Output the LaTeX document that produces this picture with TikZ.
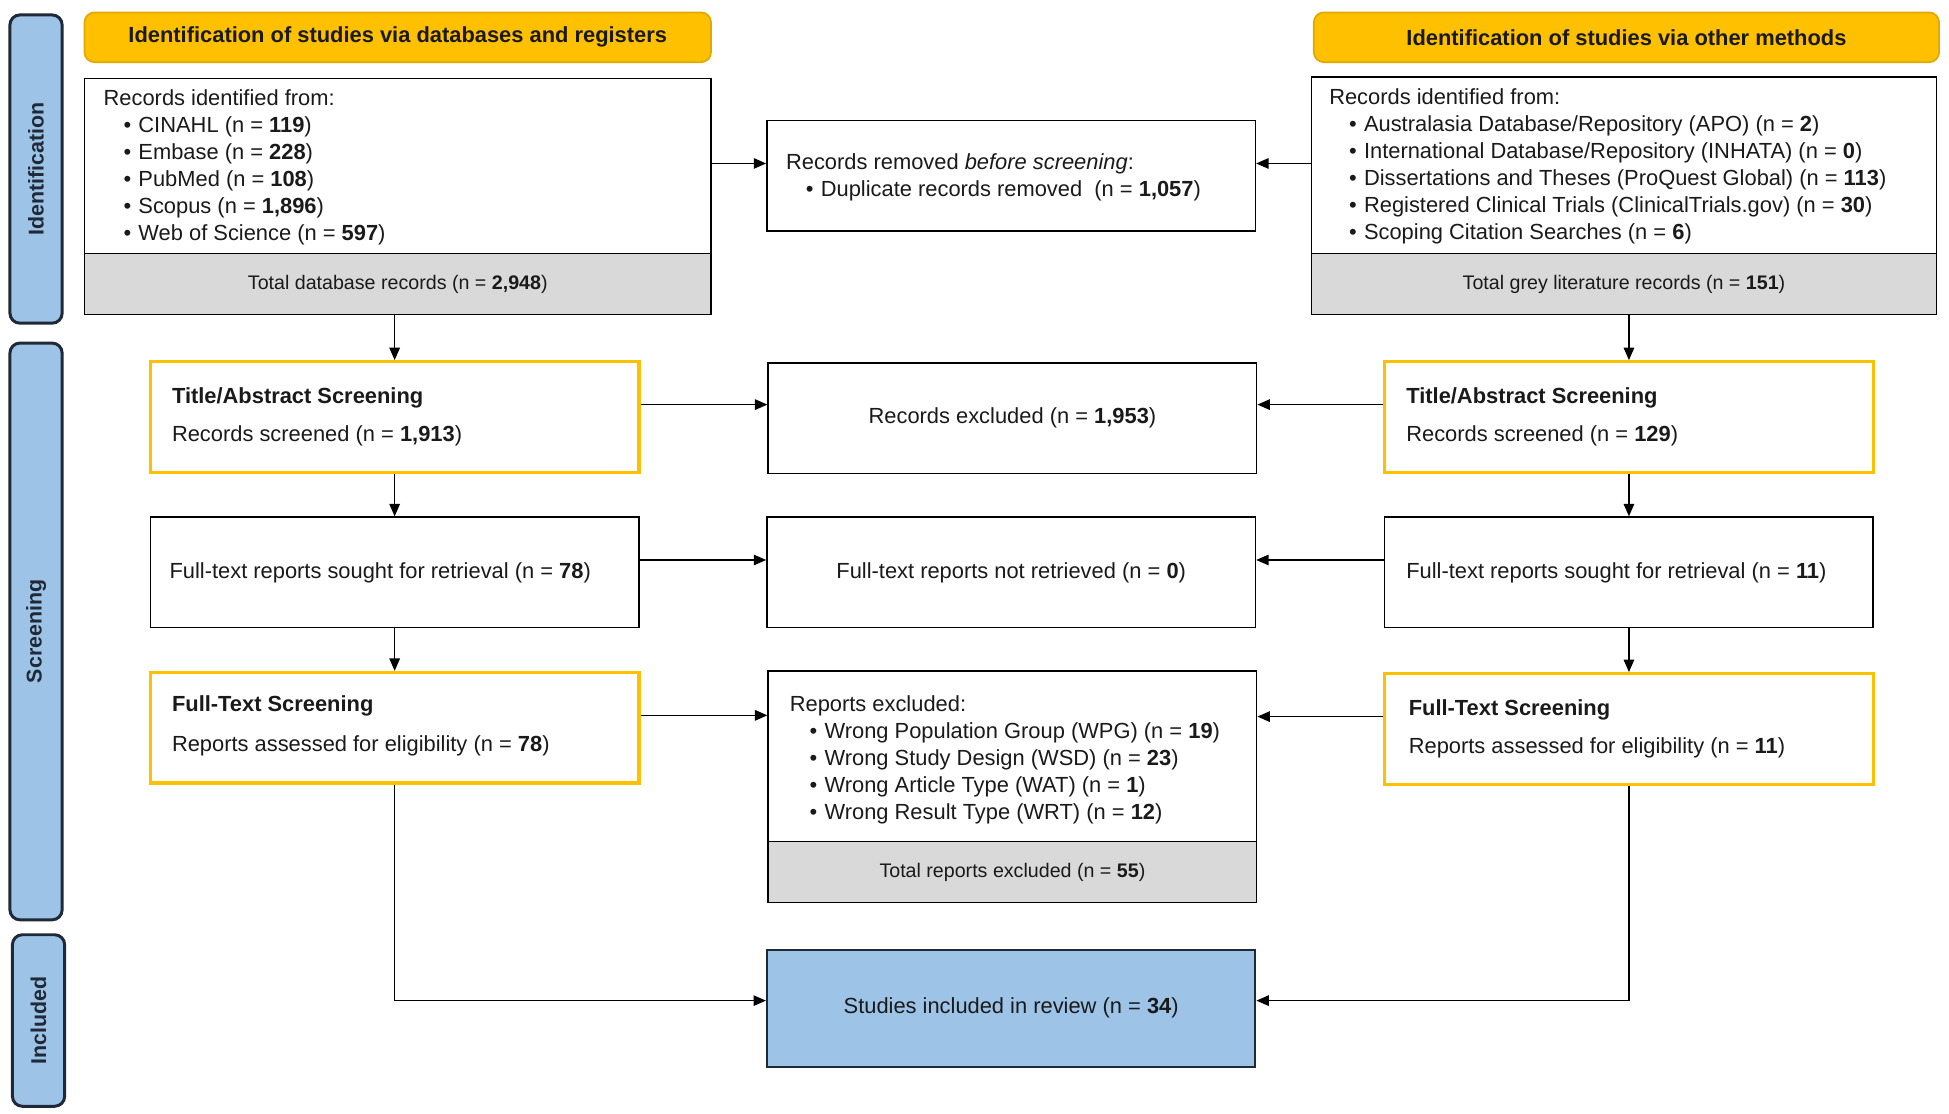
\documentclass[tikz,border=0pt]{standalone}
\usepackage{fontspec}
\setmainfont{Liberation Sans}
\usetikzlibrary{fit,arrows.meta,calc}
\definecolor{barblue}{HTML}{9DC3E6}
\definecolor{bardark}{HTML}{1F2937}
\definecolor{hdrgold}{HTML}{FFC000}
\definecolor{hdredge}{HTML}{E0A800}
\definecolor{gold}{HTML}{FFC000}
\definecolor{greyfill}{HTML}{D9D9D9}
\definecolor{txt}{HTML}{1A1A1A}
\newcommand{\myitem}{\hspace*{8pt}\makebox[6pt][l]{\textbullet}}
\begin{document}
\begin{tikzpicture}[x=0.5pt,y=-0.5pt,
  every node/.style={font=\fontsize{8.8}{10.85}\selectfont, text=txt, inner sep=0pt},
  plainbox/.style={draw=black, line width=0.6pt, fill=white, inner sep=0pt},
  goldbox/.style={draw=gold, line width=1.3pt, fill=white, inner sep=0pt},
  greybox/.style={draw=black, line width=0.6pt, fill=greyfill, inner sep=0pt},
  incbox/.style={draw=bardark, line width=0.8pt, fill=barblue, inner sep=0pt},
  hdr/.style={draw=hdredge, line width=0.7pt, fill=hdrgold, rounded corners=4pt, inner sep=0pt},
  bar/.style={draw=bardark, line width=1.2pt, fill=barblue, rounded corners=4pt, inner sep=0pt},
  bartext/.style={font=\fontsize{8.6}{10}\selectfont\bfseries, text=bardark, rotate=90},
  hdrtext/.style={font=\fontsize{8.8}{10}\selectfont\bfseries},
  smalltext/.style={font=\fontsize{7.9}{9}\selectfont},
  lst/.style={align=left, anchor=north west},
  arr/.style={-{Triangle[length=5pt,width=4.2pt]}, line width=0.6pt, draw=black},
]
\useasboundingbox (0,0) rectangle (1568,896);

% side bars
\node[bar, fit={(8,12)(50,260)}] (barI) {};
\node[bartext] (barIt) at (barI.center) {Identification};
\node[bar, fit={(8,276)(50,740)}] (barS) {};
\node[bartext] (barSt) at (barS.center) {Screening};
\node[bar, fit={(10,752)(52,890)}] (barC) {};
\node[bartext] (barCt) at (barC.center) {Included};

% headers
\node[hdr, fit={(68,10)(572,50)}] (hdrL) {};
\node[hdrtext] (hdrLt) at (hdrL.center) {Identification of studies via databases and registers};
\node[hdr, fit={(1057,10)(1560,50)}] (hdrR) {};
\node[hdrtext] (hdrRt) at (hdrR.center) {Identification of studies via other methods};

% records identified (left)
\node[plainbox, fit={(68,63)(572,253)}] (recL) {};
\node[greybox, fit={(68,204)(572,253)}] (recLg) {};
\node[lst] (recLt) at (83,72) {Records identified from:\\\myitem CINAHL (n = \textbf{119})\\\myitem Embase (n = \textbf{228})\\\myitem PubMed (n = \textbf{108})\\\myitem Scopus (n = \textbf{1,896})\\\myitem Web of Science (n = \textbf{597})};
\node[smalltext] (recLgt) at (recLg.center) {Total database records (n = \textbf{2,948})};

% records identified (right)
\node[plainbox, fit={(1055,62)(1558,253)}] (recR) {};
\node[greybox, fit={(1055,204)(1558,253)}] (recRg) {};
\node[lst] (recRt) at (1069,71) {Records identified from:\\\myitem Australasia Database/Repository (APO) (n = \textbf{2})\\\myitem International Database/Repository (INHATA) (n = \textbf{0})\\\myitem Dissertations and Theses (ProQuest Global) (n = \textbf{113})\\\myitem Registered Clinical Trials (ClinicalTrials.gov) (n = \textbf{30})\\\myitem Scoping Citation Searches (n = \textbf{6})};
\node[smalltext] (recRgt) at (recRg.center) {Total grey literature records (n = \textbf{151})};

% removed before screening
\node[plainbox, fit={(617,97)(1010,186)}] (rem) {};
\node[lst] (remt) at (632,123.5) {Records removed \textit{before screening}:\\\myitem Duplicate records removed\ \ (n = \textbf{1,057})};

% row 2
\node[goldbox, fit={(121,291)(514,380)}] (taL) {};
\node[anchor=west, font=\fontsize{8.8}{10}\selectfont\bfseries] (taLa) at (138,320) {Title/Abstract Screening};
\node[anchor=west] (taLb) at (138,351) {Records screened (n = \textbf{1,913})};
\node[plainbox, fit={(618,292)(1011,381)}] (excl) {};
\node (exclt) at (excl.center) {Records excluded (n = \textbf{1,953})};
\node[goldbox, fit={(1114,291)(1507,380)}] (taR) {};
\node[anchor=west, font=\fontsize{8.8}{10}\selectfont\bfseries] (taRa) at (1131,320) {Title/Abstract Screening};
\node[anchor=west] (taRb) at (1131,351) {Records screened (n = \textbf{129})};

% row 3
\node[plainbox, fit={(121,416)(514,505)}] (ftsL) {};
\node[anchor=west] (ftsLt) at (136,461) {Full-text reports sought for retrieval (n = \textbf{78})};
\node[plainbox, fit={(617,416)(1010,505)}] (nret) {};
\node (nrett) at (nret.center) {Full-text reports not retrieved (n = \textbf{0})};
\node[plainbox, fit={(1114,416)(1507,505)}] (ftsR) {};
\node[anchor=west] (ftsRt) at (1131,461) {Full-text reports sought for retrieval (n = \textbf{11})};

% row 4
\node[goldbox, fit={(121,541)(514,630)}] (ftL) {};
\node[anchor=west, font=\fontsize{8.8}{10}\selectfont\bfseries] (ftLa) at (138,568) {Full-Text Screening};
\node[anchor=west] (ftLb) at (138,600) {Reports assessed for eligibility (n = \textbf{78})};
\node[plainbox, fit={(618,540)(1011,726)}] (rexc) {};
\node[greybox, fit={(618,677)(1011,726)}] (rexcg) {};
\node[lst] (rexct) at (635,559.5) {Reports excluded:\\\myitem Wrong Population Group (WPG) (n = \textbf{19})\\\myitem Wrong Study Design (WSD) (n = \textbf{23})\\\myitem Wrong Article Type (WAT) (n = \textbf{1})\\\myitem Wrong Result Type (WRT) (n = \textbf{12})};
\node[smalltext] (rexcgt) at (rexcg.center) {Total reports excluded (n = \textbf{55})};
\node[goldbox, fit={(1114,542)(1507,631)}] (ftR) {};
\node[anchor=west, font=\fontsize{8.8}{10}\selectfont\bfseries] (ftRa) at (1133,571) {Full-Text Screening};
\node[anchor=west] (ftRb) at (1133,602) {Reports assessed for eligibility (n = \textbf{11})};

% included
\node[incbox, fit={(617,764)(1010,858)}] (incl) {};
\node (inclt) at (incl.center) {Studies included in review (n = \textbf{34})};

% vertical arrows
\draw[arr] (recL.south -| taL.north) -- (taL.north);
\draw[arr] (taL.south) -- (ftsL.north);
\draw[arr] (ftsL.south) -- (ftL.north);
\draw[arr] (recR.south -| taR.north) -- (taR.north);
\draw[arr] (taR.south) -- (ftsR.north);
\draw[arr] (ftsR.south) -- (ftsR.south |- ftR.north);

% horizontal arrows
\coordinate (a1) at ([yshift=5pt]rem.west);
\coordinate (a2) at ([yshift=5pt]rem.east);
\draw[arr] (recL.east |- a1) -- (a1);
\draw[arr] (recR.west |- a2) -- (a2);
\coordinate (b1) at ([yshift=5pt]taL.east);
\coordinate (b2) at ([yshift=5pt]taR.west);
\draw[arr] (b1) -- (b1 -| excl.west);
\draw[arr] (b2) -- (b2 -| excl.east);
\coordinate (d1) at ([yshift=5pt]ftsL.east);
\coordinate (d2) at ([yshift=5pt]ftsR.west);
\draw[arr] (d1) -- (d1 -| nret.west);
\draw[arr] (d2) -- (d2 -| nret.east);
\coordinate (e1) at ([yshift=5pt]ftL.east);
\coordinate (e2) at ([yshift=5pt]ftR.west);
\draw[arr] (e1) -- (e1 -| rexc.west);
\draw[arr] (e2) -- (e2 -| rexc.east);

% to included
\coordinate (c1) at ([yshift=3pt]incl.west);
\coordinate (c2) at ([yshift=3pt]incl.east);
\draw[arr] (ftL.south) |- (c1);
\draw[arr] (ftR.south) |- (c2);
\end{tikzpicture}
\end{document}
